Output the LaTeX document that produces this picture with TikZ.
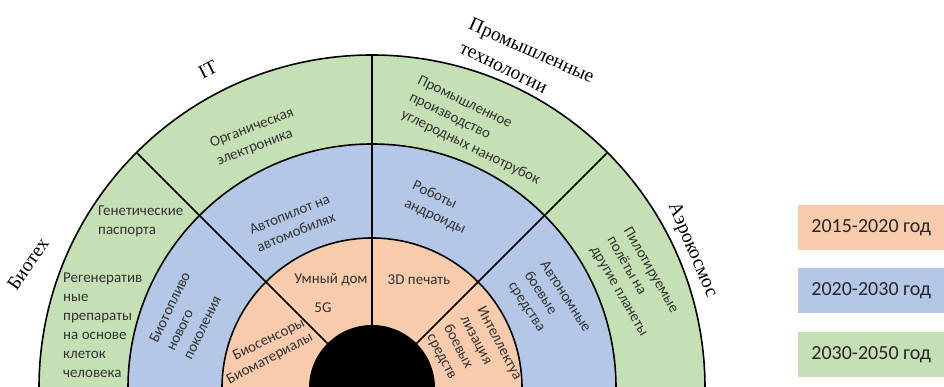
\documentclass[tikz,border=0pt]{standalone}
\usepackage{fontspec}
\usetikzlibrary{calc}
\setmainfont{Carlito}
\newfontfamily\catfont{Liberation Serif}
\definecolor{ringorange}{HTML}{F8CBAD}
\definecolor{ringblue}{HTML}{B4C7E7}
\definecolor{ringgreen}{HTML}{C5E0B4}
\definecolor{txtgray}{HTML}{333333}
\begin{document}
\begin{tikzpicture}[x=1pt,y=1pt,
  ringline/.style={draw=black, line width=1.6pt},
  lbl/.style={font=\fontsize{15}{19}\selectfont, text=txtgray, align=left, inner sep=0pt},
  catlbl/.style={font=\catfont\fontsize{19.5}{22}\selectfont, inner sep=0pt},
  legbox/.style={minimum width=146pt, minimum height=45pt, inner sep=0pt, anchor=south west,
                 font=\fontsize{20}{22}\selectfont, text=black!85}]
\useasboundingbox (0,0) rectangle (944,387);
\coordinate (c) at (372,-1);
\begin{scope}
  \clip (0,0) rectangle (944,387);
  % rings, outermost first
  \fill[ringgreen]  (c) circle[radius=333];
  \fill[ringblue]   (c) circle[radius=244];
  \fill[ringorange] (c) circle[radius=150];
  \draw[ringline] (c) circle[radius=333];
  \draw[ringline] (c) circle[radius=244];
  \draw[ringline] (c) circle[radius=150];
  % sector dividers
  \foreach \a in {45,90,135}
    \draw[ringline] ($(c)+(\a:63)$) -- ($(c)+(\a:333)$);
  \fill[black] (c) circle[radius=63];
\end{scope}

% outer ring (2030-2050)
\node[lbl, anchor=west] (gen) at (98,166) {Генетические\\паспорта};
\node[lbl, anchor=west] (regen) at (63,61.5) {Регенератив\\ные\\препараты\\на основе\\клеток\\человека};
\node[lbl, anchor=west, rotate=21] (org) at (214,234) {Органическая\\электроника};
\node[lbl, anchor=west, rotate=-26] (prom) at (410,290) {Промышленное\\производство\\углеродных нанотрубок};
\node[lbl, anchor=west, rotate=-60] (pilot) at (610,149) {Пилотируемые\\полёты на\\другие планеты};

% middle ring (2020-2030)
\node[lbl, anchor=west, rotate=64] (fuel) at (170,37) {Биотопливо\\нового\\поколения};
\node[lbl, anchor=west, rotate=22] (auto) at (253.5,148) {Автопилот на\\автомобилях};
\node[lbl, anchor=west, rotate=-25] (robot) at (409,193) {Роботы\\андроиды};
\node[lbl, anchor=west, rotate=-57] (auton) at (527,114) {Автономные\\боевые\\средства};

% inner ring (2015-2020)
\node[lbl] (home) at (331,107) {Умный дом};
\node[lbl] (fiveg) at (323,79) {5G};
\node[lbl] (print) at (419,107) {3D печать};
\node[lbl, rotate=26] (sens) at (269,47) {Биосенсоры};
\node[lbl, rotate=28] (mat) at (270,28) {Биоматериалы};
\node[lbl, anchor=west, rotate=-62] (intel) at (455,65.5) {Интеллектуа\\лизация\\боевых\\средств};

% sector titles
\node[catlbl, rotate=55] (bio) at (28,123) {Биотех};
\node[catlbl, rotate=27] (it) at (208,317) {IT};
\node[catlbl, rotate=-24] (ind1) at (531,335) {Промышленные};
\node[catlbl, rotate=-26] (ind2) at (503,318) {технологии};
\node[catlbl, rotate=-67] (aero) at (692,137) {Аэрокосмос};

% legend
\node[legbox, fill=ringorange] (l1) at (798,137) {2015-2020 год};
\node[legbox, fill=ringblue]   (l2) at (798,74)  {2020-2030 год};
\node[legbox, fill=ringgreen]  (l3) at (798,10)  {2030-2050 год};
\end{tikzpicture}
\end{document}
